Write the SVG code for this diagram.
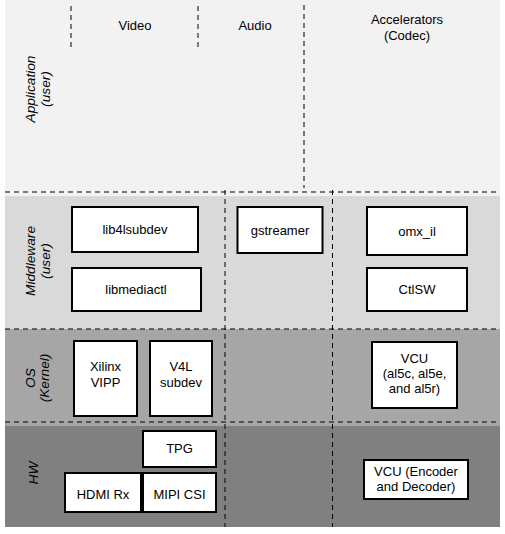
<svg xmlns="http://www.w3.org/2000/svg" width="505" height="534" viewBox="0 0 505 534">
<style>
text{font-family:"Liberation Sans",Arial,sans-serif;font-size:13px;fill:#000}
.c{text-anchor:middle}
.lab{text-anchor:middle;font-style:italic;font-size:13.7px}
.box{fill:#fff;stroke:#000;stroke-width:2}
.dash{stroke:#000;stroke-width:1;stroke-dasharray:5 4;fill:none}
</style>
<rect width="505" height="534" fill="#fff"/>
<g id="bands">
<rect x="5" y="0" width="495" height="196" fill="#f2f2f2"/>
<rect x="5" y="196" width="495" height="133" fill="#d9d9d9"/>
<rect x="5" y="329" width="495" height="97" fill="#a6a6a6"/>
<rect x="5" y="426" width="495" height="101" fill="#808080"/>
</g>
<g id="connectors">
<line class="dash" x1="5" y1="192" x2="500" y2="192"/>
<line class="dash" x1="5" y1="329" x2="500" y2="329"/>
<line class="dash" x1="5" y1="422" x2="500" y2="422"/>
<line class="dash" x1="71" y1="6" x2="71" y2="51"/>
<line class="dash" x1="198" y1="6" x2="198" y2="51"/>
<line class="dash" x1="304" y1="5" x2="304" y2="188"/>
<line class="dash" x1="225" y1="190" x2="225" y2="527"/>
<line class="dash" x1="332.5" y1="190" x2="332.5" y2="527"/>
</g>
<g id="headers">
<text class="c" x="135" y="30">Video</text>
<text class="c" x="255" y="30">Audio</text>
<text class="c" x="407" y="24">Accelerators</text>
<text class="c" x="407" y="40">(Codec)</text>
</g>
<g id="layer-labels">
<text class="lab" transform="translate(35,89) rotate(-90)">Application</text>
<text class="lab" transform="translate(50,89) rotate(-90)">(user)</text>
<text class="lab" transform="translate(35,261) rotate(-90)">Middleware</text>
<text class="lab" transform="translate(50,261) rotate(-90)">(user)</text>
<text class="lab" transform="translate(35,378) rotate(-90)">OS</text>
<text class="lab" transform="translate(49,378) rotate(-90)">(Kernel)</text>
<text class="lab" transform="translate(38,473) rotate(-90)">HW</text>
</g>
<g id="lib4lsubdev"><rect class="box" x="72" y="207" width="126" height="45"/><text class="c" x="135" y="234">lib4lsubdev</text></g>
<g id="libmediactl"><rect class="box" x="72" y="268" width="129" height="43"/><text class="c" x="136" y="294">libmediactl</text></g>
<g id="gstreamer"><rect class="box" x="237.5" y="207" width="85" height="46"/><text class="c" x="280" y="235">gstreamer</text></g>
<g id="omx_il"><rect class="box" x="367" y="207" width="100" height="48"/><text class="c" x="417" y="236">omx_il</text></g>
<g id="CtlSW"><rect class="box" x="367" y="268" width="100" height="43"/><text class="c" x="417" y="294">CtlSW</text></g>
<g id="xilinx-vipp"><rect class="box" x="74" y="341" width="63" height="75"/><text class="c" x="105.5" y="370.5">Xilinx</text><text class="c" x="105.5" y="386.5">VIPP</text></g>
<g id="v4l-subdev"><rect class="box" x="150" y="341" width="62" height="75"/><text class="c" x="181" y="370.5">V4L</text><text class="c" x="181" y="386.5">subdev</text></g>
<g id="vcu-driver"><rect class="box" x="372" y="342" width="85" height="66"/><text class="c" x="414.5" y="363">VCU</text><text class="c" x="414.5" y="378">(al5c, al5e,</text><text class="c" x="414.5" y="393">and al5r)</text></g>
<g id="tpg"><rect class="box" x="143" y="431" width="73" height="36"/><text class="c" x="179.5" y="453">TPG</text></g>
<g id="hdmi-rx"><rect class="box" x="65" y="473" width="76" height="39"/><text class="c" x="103" y="499">HDMI Rx</text></g>
<g id="mipi-csi"><rect class="box" x="143" y="473" width="73" height="39"/><text class="c" x="179.5" y="499">MIPI CSI</text></g>
<g id="vcu-hw"><rect class="box" x="364" y="460" width="104" height="39"/><text class="c" x="416" y="476">VCU (Encoder</text><text class="c" x="416" y="491">and Decoder)</text></g>
</svg>
